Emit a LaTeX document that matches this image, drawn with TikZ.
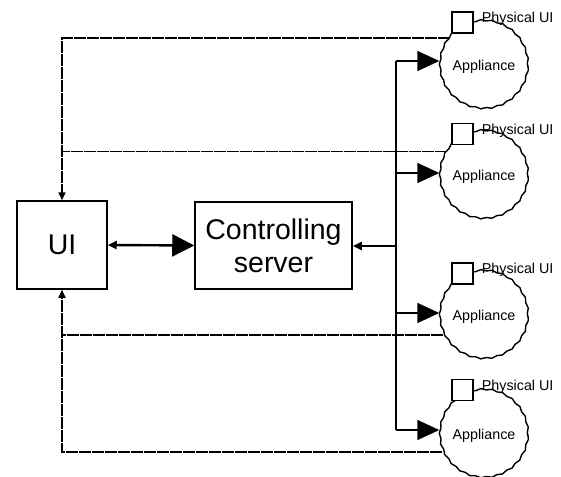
\documentclass[tikz,border=0pt]{standalone}
\usepackage{fontspec}
\setmainfont{Liberation Sans}
\usetikzlibrary{arrows.meta,decorations.pathmorphing}
\begin{document}
\begin{tikzpicture}[x=1pt,y=-1pt,
  bigbox/.style={draw,line width=1.5pt,fill=white,inner sep=0pt,font=\fontsize{28.5}{33}\selectfont,align=center},
  appl/.style={circle,draw,fill=white,line width=1.4pt,minimum size=88pt,inner sep=0pt,
     font=\fontsize{14.3}{16}\selectfont,
     decorate,decoration={snake,amplitude=0.7pt,segment length=11pt}},
  puibox/.style={draw,fill=white,line width=1.4pt,minimum size=21pt,inner sep=0pt},
  puilab/.style={anchor=base west,inner sep=0pt,font=\fontsize{14.3}{16}\selectfont},
  thinline/.style={line width=1.5pt},
  thickline/.style={line width=2.4pt},
  fb/.style={line width=1.6pt,dash pattern=on 12pt off 1pt},
  bigtip/.style={-{Triangle[length=22pt,width=20pt]}},
  smalltip/.style={-{Triangle[length=8pt,width=7pt]}}
]
\useasboundingbox (0,0) rectangle (561,476);

% main boxes
\node[bigbox,minimum width=90pt,minimum height=88pt] (ui) at (62,245) {UI};
\node[bigbox,minimum width=157pt,minimum height=87pt] (server) at (273.5,245.5) {Controlling\\server};

% appliances
\node[appl] (app1) at (484,67) {Appliance};
\node[appl] (app2) at (484,177) {Appliance};
\node[appl] (app3) at (484,317) {Appliance};
\node[appl] (app4) at (484,436) {Appliance};

% physical UI squares
\node[puibox] (pui1) at (462.5,22.5) {};
\node[puibox] (pui2) at (462.5,134) {};
\node[puibox] (pui3) at (462.5,273.5) {};
\node[puibox] (pui4) at (462.5,390) {};
\node[puilab] (lab1) at ([xshift=8pt]pui1.east) {Physical UI};
\node[puilab] (lab2) at ([xshift=8pt]pui2.east) {Physical UI};
\node[puilab] (lab3) at ([xshift=8pt]pui3.east) {Physical UI};
\node[puilab] (lab4) at ([xshift=8pt]pui4.east) {Physical UI};

% bus
\coordinate (b1) at (396,61);
\coordinate (b2) at (396,173);
\coordinate (bs) at (396,246);
\coordinate (b3) at (396,313);
\coordinate (b4) at (396,430);

\draw[thinline] (b1) -- (b2);
\draw[thickline] (b2) -- (b3);
\draw[thinline] (b3) -- (b4);

\draw[thinline,bigtip] (b1) -- (b1 -| app1.west);
\draw[thinline,bigtip] (b2) -- (b2 -| app2.west);
\draw[thinline,bigtip] (b3) -- (b3 -| app3.west);
\draw[thinline,bigtip] (b4) -- (b4 -| app4.west);

\draw[thickline,-{Triangle[length=9pt,width=8pt]}] (bs) -- (bs -| server.east);

% UI <-> server
\draw[thickline,{Triangle[length=9pt,width=8pt]}-{Triangle[length=22pt,width=22pt]}] (ui.east) -- (server.west);

% feedback lines
\draw[fb,smalltip] (app1.140) -| (ui.north);
\draw[fb] (app2.145) -- (app2.145 -| ui.north);
\draw[fb,smalltip] (app4.201) -| (ui.south);
\draw[fb] (app3.204) -- (app3.204 -| ui.south);

% redraw squares on top
\node[puibox] at (pui1) {};
\node[puibox] at (pui2) {};
\node[puibox] at (pui3) {};
\node[puibox] at (pui4) {};
\end{tikzpicture}
\end{document}
